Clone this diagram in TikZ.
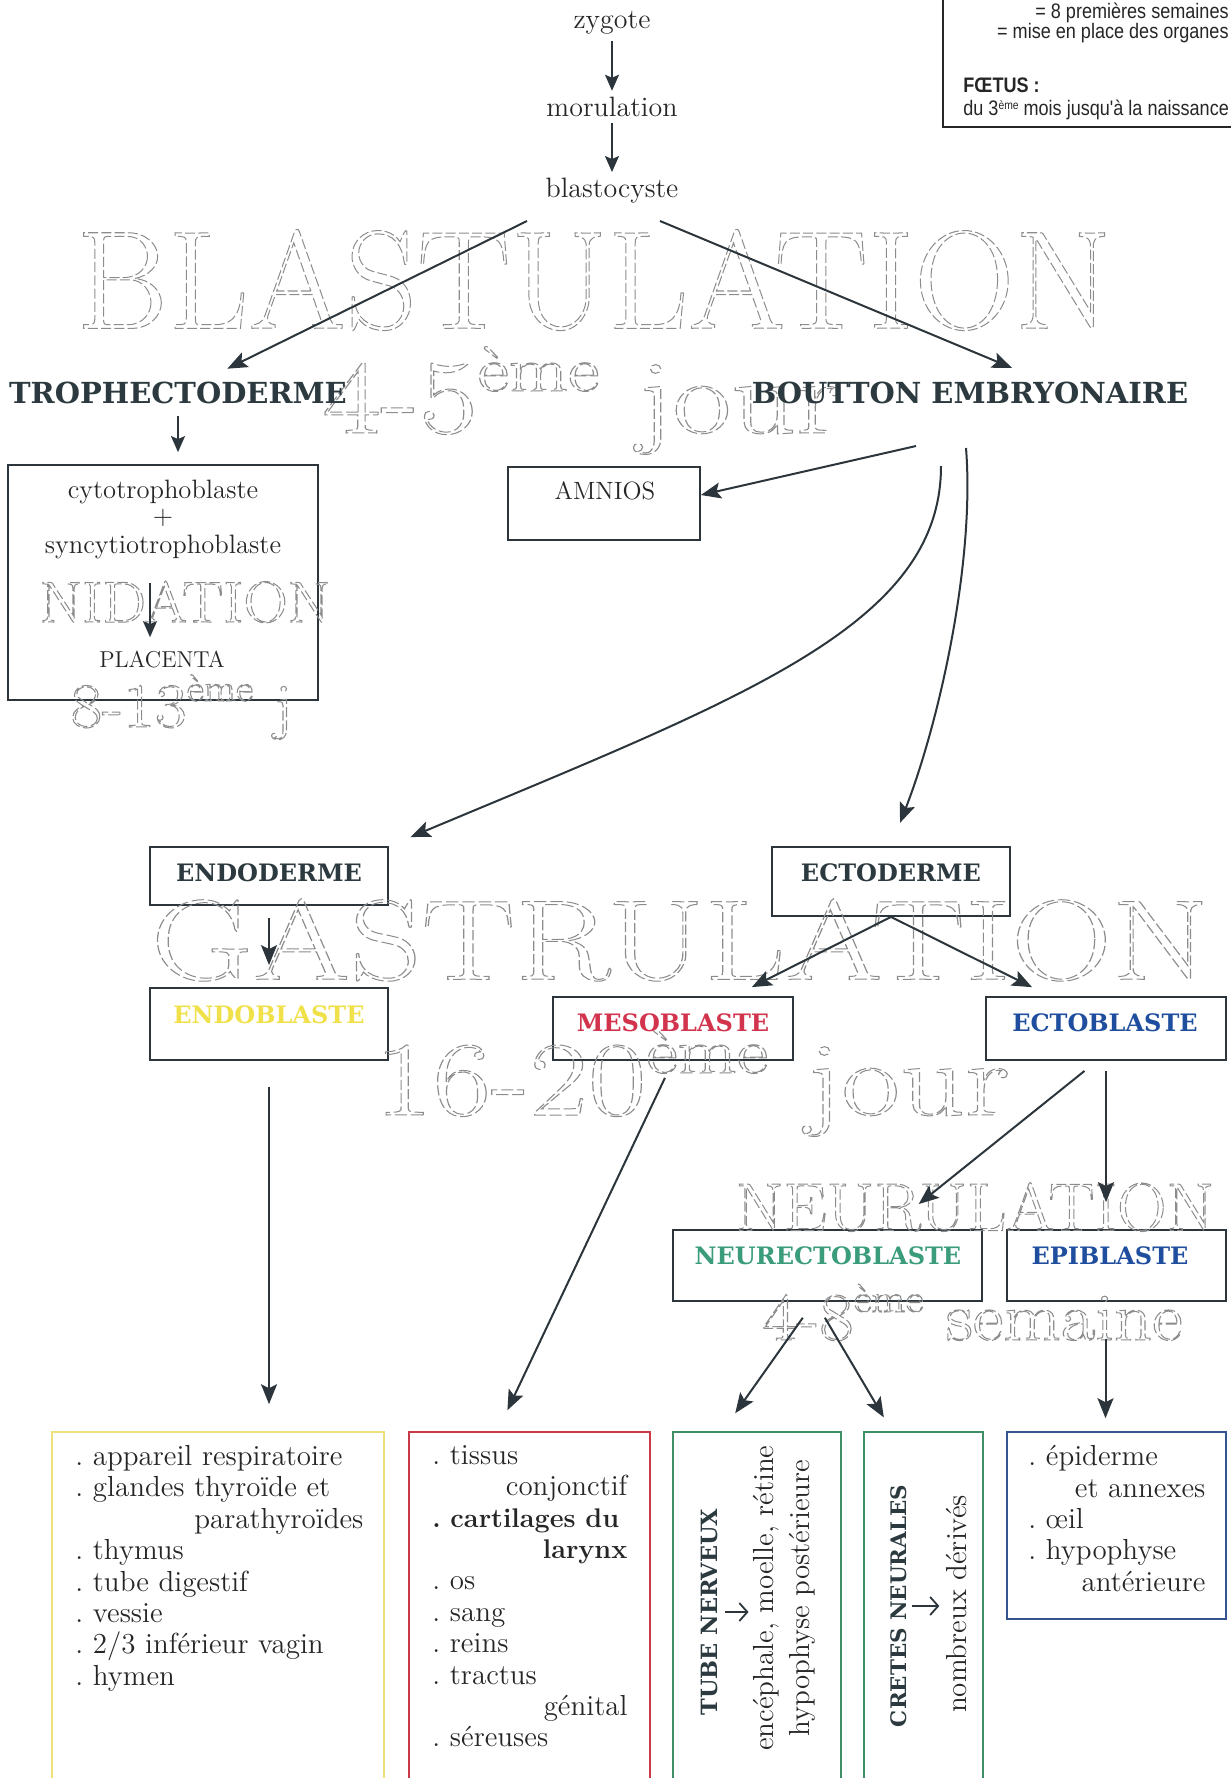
\documentclass[tikz,border=0pt]{standalone}
\usepackage{fontspec}
\usepackage{graphicx}
\usetikzlibrary{arrows.meta}
\newfontfamily\legf[FakeStretch=0.86]{Liberation Sans}
\newfontfamily\hvy{DejaVu Serif}
\definecolor{arrc}{HTML}{2B353B}
\definecolor{txtc}{HTML}{262626}
\definecolor{headc}{HTML}{2C3A40}
\definecolor{yelt}{HTML}{F0E04A}
\definecolor{yelb}{HTML}{EDE27A}
\definecolor{redt}{HTML}{D2334D}
\definecolor{redb}{HTML}{C83A48}
\definecolor{grnt}{HTML}{3A9C7A}
\definecolor{grnb}{HTML}{3E8E68}
\definecolor{blut}{HTML}{1F4E9E}
\definecolor{blub}{HTML}{34558F}
\definecolor{olc}{HTML}{8C8C8C}
\newcommand\olt[1]{\special{pdf:literal direct 1 Tr 0.5 w [5 1.6] 0 d 0.55 G}#1\special{pdf:literal direct 0 Tr [] 0 d}}
\newcommand\olsup[3]{\raisebox{#1}{\fontsize{#2}{#2}\selectfont #3}}
\tikzset{
  txt/.style={inner sep=0pt, text=txtc, font=\fontsize{14}{15.7}\selectfont},
  btxt/.style={inner sep=0pt, text=txtc, font=\fontsize{14.5}{15.7}\selectfont, anchor=north west, align=left},
  head/.style={inner sep=0pt, text=headc, font=\hvy\bfseries\fontsize{14.5}{17}\selectfont},
  bhead/.style={inner sep=0pt, font=\hvy\bfseries\fontsize{12}{14}\selectfont},
  box/.style={draw=arrc, line width=0.9pt, inner sep=0pt},
  cbox/.style={line width=0.8pt, inner sep=0pt},
  arr/.style={draw=arrc, line width=1pt, -{Stealth[length=10pt,width=8pt,inset=2pt]}},
  arrS/.style={draw=arrc, line width=0.9pt, -{Stealth[length=8pt,width=7pt,inset=1.5pt]}},
  sarr/.style={draw=arrc, line width=0.9pt, -{Straight Barb[length=4pt,width=9pt]}},
  ol/.style={inner sep=0pt, text=olc},
  legt/.style={inner sep=0pt, text=black!85, font=\legf\fontsize{10.5}{12}\selectfont},
}
\begin{document}
\frenchspacing
\begin{tikzpicture}[x=0.5pt,y=-0.5pt]
\useasboundingbox (0,0) rectangle (1231,1778);

% ---------- legend (top right, partly cut) ----------
\node[draw=black!85, line width=1.1pt, inner sep=0pt, minimum width=158.5pt, minimum height=73.5pt] (leg) at (1101.5,53.5) {};
\node[legt, anchor=east] (leg1) at (1229,13) {= 8 premières semaines};
\node[legt, anchor=east] (leg2) at (1229,33) {= mise en place des organes};
\node[legt, anchor=west, font=\legf\bfseries\fontsize{10.5}{12}\selectfont] (leg3) at (963,85) {FŒTUS :};
\node[legt, anchor=west] (leg4) at (963,110) {du 3\olsup{3pt}{6}{ème} mois jusqu'à la naissance};

% ---------- boxes ----------
\node[box, minimum width=155pt, minimum height=117.5pt] (tbox) at (163,582.5) {};
\node[box, minimum width=96pt, minimum height=36.5pt] (amn) at (604,503.5) {};
\node[box, minimum width=119pt, minimum height=29pt] (endo) at (269,876) {};
\node[box, minimum width=119pt, minimum height=34.5pt] (ecto) at (891,881.5) {};
\node[box, minimum width=119pt, minimum height=36pt] (endob) at (269,1024) {};
\node[box, minimum width=120pt, minimum height=31.5pt] (meso) at (673,1028.5) {};
\node[box, minimum width=120pt, minimum height=31.5pt] (ectob) at (1106,1028.5) {};
\node[box, minimum width=154.5pt, minimum height=35.5pt] (neur) at (827.5,1265.5) {};
\node[box, minimum width=109.5pt, minimum height=35.5pt] (epib) at (1116.5,1265.5) {};
\node[cbox, draw=yelb, minimum width=166pt, minimum height=179pt] (yel) at (218,1611) {};
\node[cbox, draw=redb, minimum width=120.5pt, minimum height=179pt] (red) at (529.5,1611) {};
\node[cbox, draw=grnb, minimum width=84pt, minimum height=179pt] (gone) at (757,1611) {};
\node[cbox, draw=grnb, minimum width=59.5pt, minimum height=179pt] (gtwo) at (923.5,1611) {};
\node[cbox, draw=blub, minimum width=109.5pt, minimum height=93.5pt] (blu) at (1116.5,1525.5) {};

% ---------- outlined stage titles ----------
\begin{scope}
\node[ol, font=\fontsize{70}{70}\selectfont] (oblas) at (594,280) {\olt{\scalebox{1.0}[1]{BLASTULATION}}};
\node[ol, anchor=base west, font=\fontsize{53}{53}\selectfont] (oblasd) at (322,433) {\olt{\scalebox{1.2}[1]{4-5\olsup{21pt}{32}{ème} jour}}};
\node[ol, font=\fontsize{29}{29}\selectfont] (onid) at (185,602) {\olt{\scalebox{1.06}[1]{NIDATION}}};
\node[ol, anchor=base west, font=\fontsize{31.5}{31.5}\selectfont] (onidd) at (70,727) {\olt{\scalebox{1.1}[1]{8-13\olsup{13pt}{19}{ème} j}}};
\node[ol, font=\fontsize{57}{57}\selectfont] (ogas) at (680,940) {\olt{\scalebox{1.23}[1]{GASTRULATION}}};
\node[ol, anchor=base west, font=\fontsize{53}{53}\selectfont] (ogasd) at (374,1115) {\olt{\scalebox{1.2}[1]{16-20\olsup{21pt}{32}{ème} jour}}};
\node[ol, font=\fontsize{34}{34}\selectfont] (oneu) at (975,1207) {\olt{\scalebox{1.01}[1]{NEURULATION}}};
\node[ol, anchor=base west, font=\fontsize{34}{34}\selectfont] (oneud) at (762,1340) {\olt{\scalebox{1.1}[1]{4-8\olsup{14pt}{20}{ème} semaine}}};
\end{scope}

% ---------- texts ----------
\node[txt] (zyg) at (612,23) {zygote};
\node[txt] (mor) at (612,107) {morulation};
\node[txt] (bla) at (612,191) {blastocyste};
\node[head] (tro) at (178,393) {TROPHECTODERME};
\node[head] (bou) at (970,393) {BOUTTON EMBRYONAIRE};
\node[txt, font=\fontsize{13.3}{15}\selectfont] (cyto) at (163,492) {cytotrophoblaste};
\node[txt, font=\fontsize{13.3}{15}\selectfont] (plus) at (163,518) {+};
\node[txt, font=\fontsize{13.3}{15}\selectfont] (sync) at (163,547) {syncytiotrophoblaste};
\node[txt, font=\fontsize{11.5}{13}\selectfont] (plac) at (162,660) {PLACENTA};
\node[txt, font=\fontsize{12.5}{14}\selectfont] (amnt) at (605,491) {AMNIOS};
\node[bhead, text=headc] (endot) at (269,873) {ENDODERME};
\node[bhead, text=headc] (ectot) at (891,873) {ECTODERME};
\node[bhead, text=yelt] (endobt) at (269,1015) {ENDOBLASTE};
\node[bhead, text=redt] (mesot) at (673,1023) {MESOBLASTE};
\node[bhead, text=blut] (ectobt) at (1105,1023) {ECTOBLASTE};
\node[bhead, text=grnt] (neurt) at (828,1256) {NEURECTOBLASTE};
\node[bhead, text=blut] (epibt) at (1110,1256) {EPIBLASTE};

\node[btxt, text width=144pt] (ytxt) at (75,1445) {%
. appareil respiratoire\\
. glandes thyroïde et\\
\hspace*{\fill}parathyroïdes\\
. thymus\\
. tube digestif\\
. vessie\\
. 2/3 inférieur vagin\\
. hymen};
\node[btxt, text width=97.5pt] (rtxt) at (432,1445) {%
. tissus\\
\hspace*{\fill}conjonctif\\
{\bfseries\fontsize{13.5}{15.7}\selectfont . cartilages du}\\
\hspace*{\fill}{\bfseries\fontsize{13.5}{15.7}\selectfont larynx}\\
. os\\
. sang\\
. reins\\
. tractus\\
\hspace*{\fill}génital\\
. séreuses};
\node[btxt, text width=88.5pt] (btxt) at (1028,1445) {%
. épiderme\\
\hspace*{\fill}et annexes\\
. œil\\
. hypophyse\\
\hspace*{\fill}antérieure};

\node[bhead, rotate=90, text=headc, font=\hvy\bfseries\fontsize{11.2}{13}\selectfont] (tube) at (709,1612) {TUBE NERVEUX};
\node[txt, rotate=90, align=center, font=\fontsize{14.5}{18}\selectfont] (enc) at (784,1598) {encéphale, moelle, rétine\\hypophyse postérieure};
\node[bhead, rotate=90, text=headc, font=\hvy\bfseries\fontsize{10.7}{13}\selectfont] (cre) at (899,1606) {CRETES NEURALES};
\node[txt, rotate=90, font=\fontsize{14.5}{18}\selectfont] (nom) at (957,1604) {nombreux dérivés};

% ---------- connectors ----------
\coordinate (bl1) at (527,221);
\coordinate (bl2) at (660,221);
\coordinate (b0) at (916,446);
\coordinate (b1) at (941,466);
\coordinate (b2) at (966,448);

\draw[arrS, shorten <=3pt, shorten >=3pt] (zyg) -- (mor);
\draw[arrS, shorten <=3pt, shorten >=3pt] (mor) -- (bla);
\draw[arr, shorten >=27.5pt] (bl1) -- (tro.center);
\draw[arr, shorten >=32.5pt] (bl2) -- ([xshift=51pt]bou.center);
\draw[arrS, shorten <=6pt, shorten >=6pt] (tro.south) -- (tro.south |- tbox.north);
\draw[arrS, shorten <=12pt, shorten >=7pt] ([xshift=-6.5pt]sync.south) -- ([xshift=-6pt]plac.north);
\draw[arr] (b0) -- (amn.5);
\draw[arr, shorten >=11.7pt] (b1) .. controls (941,625) and (745,697) .. (endo.north east);
\draw[arr, shorten >=12.5pt] (b2) .. controls (975,560) and (940,720) .. (ecto.north);
\draw[arr, shorten <=6pt, shorten >=11pt] (endo.south) -- (endob.north);
\draw[arr, shorten >=10pt] (ecto.south) -- ([xshift=30.5pt]meso.north);
\draw[arr, shorten >=10pt] (ecto.south) -- ([xshift=-28pt]ectob.north);
\draw[arr, shorten <=13pt, shorten >=13.5pt] (endob.south) -- (endob.south |- yel.north);
\draw[arr, shorten <=9.4pt, shorten >=11.6pt] (meso.south) -- ([xshift=-16pt]red.north);
\draw[arr, shorten <=8pt, shorten >=20pt] ([xshift=-4.5pt]ectob.south) -- ([xshift=30pt]neur.north);
\draw[arr, shorten <=5pt, shorten >=13.5pt] (ectob.south) -- (ectob.south |- epib.north);
\draw[arr, shorten <=9.7pt, shorten >=11pt] ([xshift=-6.75pt]neur.south) -- ([xshift=-17.25pt]gone.north);
\draw[arr, shorten <=9.2pt, shorten >=8pt] ([xshift=-6pt]neur.south) -- ([xshift=-15.75pt]gtwo.north);
\draw[arr, shorten <=18.5pt, shorten >=6.5pt] ([xshift=-5.5pt]epib.south) -- ([xshift=-5.5pt]blu.north);
\draw[sarr, shorten <=3.5pt, shorten >=2pt] (tube.south) -- (tube.south -| enc.north);
\draw[sarr, shorten <=2pt, shorten >=3.5pt] (cre.south) -- (cre.south -| nom.north);
\end{tikzpicture}
\end{document}
